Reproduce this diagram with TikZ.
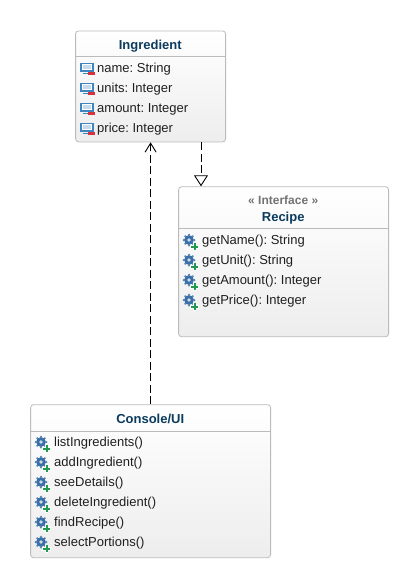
\documentclass[tikz,border=0pt]{standalone}
\usepackage{fontspec}
\setmainfont{Liberation Sans}
\usetikzlibrary{arrows.meta,calc}
\definecolor{titleblue}{HTML}{0B3B5E}
\definecolor{boxline}{HTML}{BBBBBB}
\definecolor{icoblue}{HTML}{3F85C0}
\definecolor{gearblue}{HTML}{3A6FA8}
\definecolor{icored}{HTML}{D8323C}
\definecolor{icogreen}{HTML}{1F9A4E}
\tikzset{
  x=1pt,y=-1pt,
  classbox/.style={draw=boxline,line width=0.8pt,rounded corners=3pt,top color=white,bottom color=black!7,inner sep=0pt,anchor=north west},
  titletext/.style={font=\fontsize{13}{15}\selectfont\bfseries,text=titleblue,inner sep=0pt,anchor=base},
  stereotext/.style={font=\fontsize{12}{14}\selectfont\bfseries,text=black!55,inner sep=0pt,anchor=base},
  membertext/.style={font=\fontsize{13}{15}\selectfont\frenchspacing,text=black!88,inner sep=0pt,anchor=base west},
  sepline/.style={draw=boxline,line width=0.8pt},
  depline/.style={draw=black,line width=0.9pt,dash pattern=on 8pt off 3.5pt},
  attricon/.pic={
    \draw[icoblue,line width=1.1pt,fill=white] (-5.5,-4.2) rectangle (6.5,3);
    \fill[icoblue!30] (-3.8,-2.6) rectangle (4.8,1.4);
    \draw[icoblue,line width=1pt] (-3.5,5) -- (2,5);
    \fill[icored] (1.5,3.8) rectangle (8.5,6.6);
  },
  operon/.pic={
    \fill[gearblue] (0,0) circle (4.9);
    \foreach \a in {0,45,...,315}{\fill[gearblue!85] (\a:5.3) circle (1.2);}
    \fill[white!75!gearblue] (0,0) circle (1.9);
    \fill[white] (1.4,5.1) rectangle (9.9,8.9);
    \fill[white] (3.9,2.6) rectangle (7.4,10.5);
    \fill[icogreen] (2.3,5.7) rectangle (9,8);
    \fill[icogreen] (4.5,3.3) rectangle (6.8,9.9);
  },
}
\newcommand{\attrrow}[3]{\path (86.5,#1) pic {attricon}; \node[membertext] (#2) at (97,#1+4.5) {#3};}
\newcommand{\operrow}[4]{\path (#1,#2) pic {operon}; \node[membertext] (#3) at (#1+13,#2+4.5) {#4};}
\begin{document}
\begin{tikzpicture}
\useasboundingbox (0,0) rectangle (418,587);
\fill[white] (0,0) rectangle (418,587);
% Ingredient
\node[classbox,minimum width=150pt,minimum height=111pt] (ingredient) at (75.2,30.5) {};
\draw[sepline] (75.2,56.5) -- (225.2,56.5);
\node[titletext] (ingtitle) at (150.2,49.3) {Ingredient};
\attrrow{68}{a1}{name: String}
\attrrow{88}{a2}{units: Integer}
\attrrow{108}{a3}{amount: Integer}
\attrrow{128}{a4}{price: Integer}
% Recipe
\node[classbox,minimum width=210pt,minimum height=150pt] (recipe) at (178.2,186.3) {};
\draw[sepline] (178.2,228.3) -- (388.2,228.3);
\node[stereotext] (recstereo) at (283.2,204) {« Interface »};
\node[titletext] (rectitle) at (283.2,221) {Recipe};
\operrow{189}{240}{r1}{getName(): String}
\operrow{189}{260}{r2}{getUnit(): String}
\operrow{189}{280}{r3}{getAmount(): Integer}
\operrow{189}{300}{r4}{getPrice(): Integer}
% Console/UI
\node[classbox,minimum width=240pt,minimum height=153pt] (console) at (30.2,404.3) {};
\draw[sepline] (30.2,431.3) -- (270.2,431.3);
\node[titletext] (contitle) at (150.2,423) {Console/UI};
\operrow{41}{442}{c1}{listIngredients()}
\operrow{41}{462}{c2}{addIngredient()}
\operrow{41}{482}{c3}{seeDetails()}
\operrow{41}{502}{c4}{deleteIngredient()}
\operrow{41}{522}{c5}{findRecipe()}
\operrow{41}{542}{c6}{selectPortions()}
% Connectors
\coordinate (gtop) at (201,141);
\coordinate (gtip) at (201,186.3);
\draw[depline,-{Triangle[open,length=11pt,width=14pt,line width=0.9pt,sep=0pt]}] (ingredient.south -| gtop) -- (recipe.north -| gtip);
\draw[depline,-{Straight Barb[length=9pt,width=11pt,line width=0.9pt]}] (console.north) -- (ingredient.south);
\end{tikzpicture}
\end{document}
